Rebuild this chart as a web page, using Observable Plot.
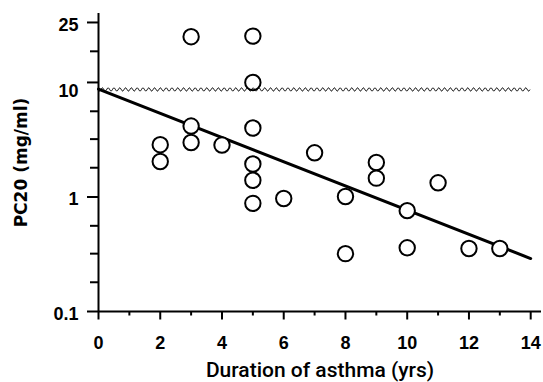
<!DOCTYPE html>
<html><head><meta charset="utf-8">
<script src="https://cdn.jsdelivr.net/npm/d3@7"></script>
<script src="https://cdn.jsdelivr.net/npm/@observablehq/plot@0.6"></script>
<style>
html,body{margin:0;padding:0;background:#fff;}
</style>
</head><body><div id="chart"></div>
<script>
// Data
const duration = [2, 2, 3, 3, 3, 4, 5, 5, 5, 5, 5, 5, 6, 7, 8, 8, 9, 9, 10, 10, 11, 12, 13];
const pc20 = [2.86, 2.04, 25.1, 4.16, 2.99, 2.84, 25.4, 10.0, 4.0, 1.94, 1.40, 0.88, 0.97, 2.43, 1.01, 0.32, 2.0, 1.46, 0.76, 0.36, 1.33, 0.355, 0.355];
const fitX = [0, 14];
const fitY = [8.75, 0.29];
const breakLevel = 8.6;
const breakFrom = 0;
const breakTo = 14;
const xMajorTicks = [0, 2, 4, 6, 8, 10, 12, 14];
const xMinorTicks = [1, 3, 5, 7, 9, 11, 13];
const yMajorTicks = [0.1, 1, 10, 33.4];
const yMajorLabels = ["0.1", "1", "10", "25"];
const yMinorTicks = [0.18, 0.32, 0.56, 1.8, 3.2, 5.6, 18.7];
const xLabel = "Duration of asthma (yrs)";
const yLabel = "PC20 (mg/ml)";

const points = duration.map((d, i) => ({x: d, y: pc20[i]}));
const fit = fitX.map((d, i) => ({x: d, y: fitY[i]}));
const yLabelOf = new Map(yMajorTicks.map((v, i) => [v, yMajorLabels[i]]));

const tickFont = "'Liberation Sans', Arial, sans-serif";

function wavyMark(level, x0, x1) {
  return (index, scales) => {
    const y0 = scales.y(level);
    const xa = scales.x(x0), xb = scales.x(x1);
    const period = 5.8, amp = 1.6;
    let d = `M${xa},${y0}`;
    for (let x = xa; x <= xb; x += 0.5) {
      d += `L${x.toFixed(2)},${(y0 + amp * Math.sin((x - xa) / period * 2 * Math.PI)).toFixed(2)}`;
    }
    const p = document.createElementNS("http://www.w3.org/2000/svg", "path");
    p.setAttribute("d", d);
    p.setAttribute("fill", "none");
    p.setAttribute("stroke", "black");
    p.setAttribute("stroke-width", "1");
    return p;
  };
}

const chart = Plot.plot({
  width: 543,
  height: 382,
  marginLeft: 98,
  marginRight: 2,
  marginTop: 13,
  marginBottom: 71,
  style: {fontFamily: tickFont, background: "#fff", color: "black"},
  x: {domain: [0, 14.35], axis: null},
  y: {type: "log", domain: [0.1, 40], axis: null},
  marks: [
    Plot.axisX({ticks: xMinorTicks, tickSize: 4.5, strokeWidth: 2, text: null, anchor: "bottom", label: null}),
    Plot.axisX({ticks: xMajorTicks, tickSize: 8.5, strokeWidth: 2, tickPadding: 16, anchor: "bottom",
      fontSize: 18, fontWeight: "bold", tickFormat: d => String(d), label: null}),
    Plot.axisY({ticks: yMinorTicks, tickSize: 8, strokeWidth: 2, text: null, anchor: "left", label: null}),
    Plot.axisY({ticks: yMajorTicks, tickSize: 11, strokeWidth: 2, text: null, anchor: "left", label: null}),
    Plot.axisY({ticks: yMajorTicks.filter(v => v !== 10), tickSize: 11, tickPadding: 9, anchor: "left", stroke: "none",
      dy: 2.5, fontSize: 18, fontWeight: "bold", tickFormat: d => yLabelOf.get(d), label: null}),
    Plot.axisY({ticks: [10], tickSize: 11, tickPadding: 9, anchor: "left", stroke: "none",
      dy: 9, fontSize: 18, fontWeight: "bold", tickFormat: d => yLabelOf.get(d), label: null}),
    Plot.ruleX([0], {stroke: "black", strokeWidth: 2}),
    Plot.ruleY([0.1], {stroke: "black", strokeWidth: 2}),
    Plot.line(fit, {x: "x", y: "y", stroke: "black", strokeWidth: 3}),
    Plot.dot(points, {x: "x", y: "y", r: 7.7, stroke: "black", strokeWidth: 2, fill: "white"}),
    wavyMark(breakLevel, breakFrom, breakTo),
    Plot.text([xLabel], {frameAnchor: "bottom", dy: 59, lineAnchor: "middle", fontSize: 21, fontWeight: 500, fontFamily: "Roboto, 'Liberation Sans', sans-serif", fill: "black"}),
    Plot.text([yLabel], {frameAnchor: "left", dx: -77, rotate: -90, lineAnchor: "middle", textAnchor: "middle", fontSize: 17, fontWeight: "bold", fontFamily: "'DejaVu Sans', sans-serif", fill: "black"})
  ]
});
document.getElementById("chart").appendChild(chart);
</script>
</body></html>
